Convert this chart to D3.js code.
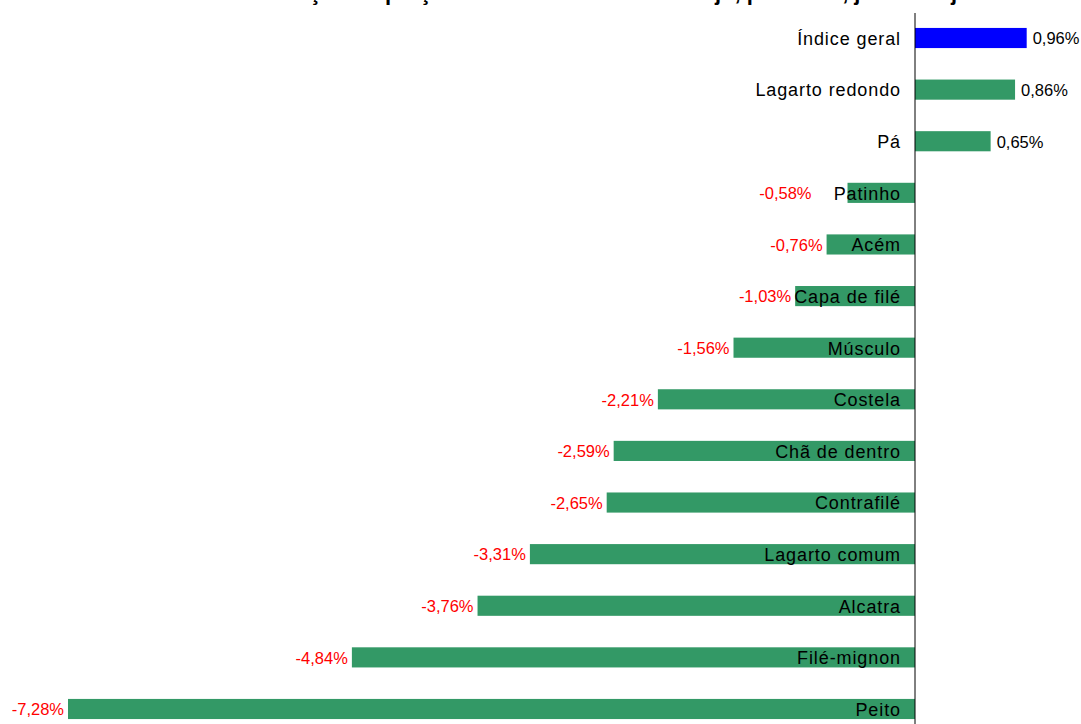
<!DOCTYPE html>
<html>
<head>
<meta charset="utf-8">
<script src="https://cdn.jsdelivr.net/npm/d3@7"></script>
<style>
  body { margin: 0; background: #fff; }
  svg { display: block; font-family: "Liberation Sans", Arial, sans-serif; }
</style>
</head>
<body>
<svg id="chart"></svg>
<script>
// data
var categories = ["Índice geral", "Lagarto redondo", "Pá", "Patinho", "Acém", "Capa de filé",
  "Músculo", "Costela", "Chã de dentro", "Contrafilé", "Lagarto comum", "Alcatra",
  "Filé-mignon", "Peito"];
var values = [0.96, 0.86, 0.65, -0.58, -0.76, -1.03, -1.56, -2.21, -2.59, -2.65, -3.31, -3.76, -4.84, -7.28];

var data = categories.map(function(c, i) {
  return { name: c, value: values[i] };
});

var svg = d3.select("#chart").attr("width", 1081).attr("height", 724);

var xScale = d3.scaleLinear().domain([-7.28, 0]).range([68, 915]);
var yScale = d3.scaleBand()
  .domain(categories)
  .range([12.2, 734.8])
  .paddingInner(0.61)
  .paddingOuter(0.305);

// title (mostly cut off at the top in the original)
svg.append("text")
  .attr("x", 630)
  .attr("y", 0)
  .attr("text-anchor", "middle")
  .attr("font-weight", "bold")
  .attr("font-size", "22px")
  .text("Variação de preços da carne bovina no varejo, por corte, janeiro a julho");

// bars
svg.selectAll(".bar")
  .data(data)
  .enter()
  .append("rect")
  .attr("class", "bar")
  .attr("x", function(d) { return xScale(Math.min(0, d.value)); })
  .attr("y", function(d) { return yScale(d.name); })
  .attr("width", function(d) { return Math.abs(xScale(d.value) - xScale(0)); })
  .attr("height", yScale.bandwidth())
  .attr("fill", function(d) {
    if (d.name == "Índice geral") {
      return "#0000ff";
    }
    return "#339966";
  });

// vertical axis line at zero
svg.append("line")
  .attr("x1", xScale(0))
  .attr("x2", xScale(0))
  .attr("y1", 13)
  .attr("y2", 724)
  .attr("stroke", "#000")
  .attr("stroke-width", 1);

// category labels
svg.selectAll("text.cat")
  .data(data)
  .enter()
  .append("text")
  .attr("class", "cat")
  .attr("x", xScale(0) - 14)
  .attr("y", function(d) { return yScale(d.name) + yScale.bandwidth() / 2; })
  .attr("dy", "0.38em")
  .attr("text-anchor", "end")
  .attr("font-size", "18px")
  .attr("letter-spacing", "0.9px")
  .attr("fill", "#000")
  .text(function(d) { return d.name; });

// value labels
var fmt = function(v) { return v.toFixed(2).replace(".", ",") + "%"; };
svg.selectAll("text.val")
  .data(data)
  .enter()
  .append("text")
  .attr("class", "val")
  .attr("x", function(d) {
    if (d.value < 0) {
      // the short Patinho bar has its label pushed clear of the name
      return xScale(d.value) - (d.name == "Patinho" ? 36 : 4);
    }
    return xScale(d.value) + 6;
  })
  .attr("y", function(d) { return yScale(d.name) + yScale.bandwidth() / 2; })
  .attr("dy", "0.38em")
  .attr("text-anchor", function(d) { return d.value < 0 ? "end" : "start"; })
  .attr("font-size", "16.5px")
  .attr("fill", function(d) { return d.value < 0 ? "#ff0000" : "#000"; })
  .text(function(d) { return fmt(d.value); });
</script>
</body>
</html>
